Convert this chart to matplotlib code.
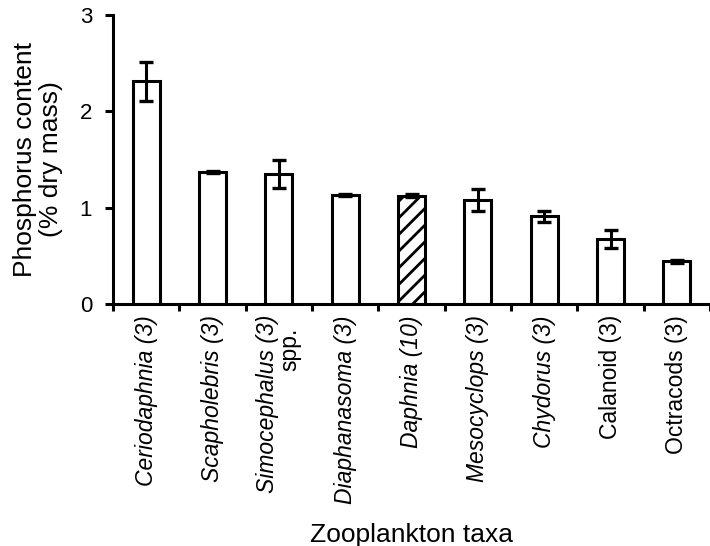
import matplotlib
matplotlib.use("Agg")
import matplotlib.pyplot as plt
import numpy as np

plt.rcParams['font.family'] = ['Liberation Sans', 'DejaVu Sans']
plt.rcParams['hatch.linewidth'] = 2.0

taxa = ["Ceriodaphnia (3)", "Scapholebris (3)", "Simocephalus (3)", "Diaphanasoma (3)",
        "Daphnia (10)", "Mesocyclops (3)", "Chydorus (3)", "Calanoid (3)", "Octracods (3)"]
second_line = ["", "", "spp.", "", "", "", "", "", ""]
italic = [True, True, True, True, True, True, True, False, False]
values = [2.31, 1.37, 1.35, 1.135, 1.125, 1.08, 0.91, 0.675, 0.445]
errors = [0.205, 0.015, 0.145, 0.012, 0.012, 0.11, 0.055, 0.09, 0.015]
hatches = ['', '', '', '', '//', '', '', '', '']
yticks = [0, 1, 2, 3]

fig = plt.figure(figsize=(7.10, 5.46), dpi=100)
ax = fig.add_axes([0.1592, 0.4432, 0.8408, 0.5293])

x = np.arange(len(taxa))
bars = ax.bar(x, values, width=0.41, color='white', edgecolor='black', linewidth=2.2,
              yerr=errors, error_kw=dict(ecolor='black', elinewidth=2.2, capsize=5, capthick=2.4),
              zorder=2)
for b, h in zip(bars, hatches):
    b.set_hatch(h)

ax.set_xlim(-0.5, len(taxa) - 0.5)
ax.set_ylim(0, 3)
ax.set_yticks(yticks)
ax.set_yticklabels([str(t) for t in yticks], fontsize=16)
ax.tick_params(axis='y', direction='out', length=6, width=2.2, pad=9)

ax.set_xticks(x)
ax.set_xticklabels([t if not s else "" for t, s in zip(taxa, second_line)],
                   rotation=90, fontsize=16.5, ha='center', va='top')
for lab, it in zip(ax.get_xticklabels(), italic):
    lab.set_style('italic' if it else 'normal')
ax.tick_params(axis='x', which='major', length=0, pad=8)
ax.set_xticks(np.arange(-0.5, len(taxa), 1.0), minor=True)
ax.tick_params(axis='x', which='minor', direction='out', length=5, width=2.2)

# two-line label: first line italic, second line upright
for i, (t, s) in enumerate(zip(taxa, second_line)):
    if s:
        ax.annotate(t, xy=(i, 0), xycoords=('data', 'axes fraction'),
                    xytext=(-11, -11), textcoords='offset pixels', rotation=90,
                    ha='center', va='top', fontsize=16.5,
                    style='italic' if italic[i] else 'normal')
        ax.annotate(s, xy=(i, 0), xycoords=('data', 'axes fraction'),
                    xytext=(11, -24), textcoords='offset pixels', rotation=90,
                    ha='center', va='top', fontsize=16.5)

for s in ['top', 'right']:
    ax.spines[s].set_visible(False)
for s in ['left', 'bottom']:
    ax.spines[s].set_linewidth(2.2)

ax.set_ylabel("Phosphorus content\n(% dry mass)", fontsize=19, labelpad=12, linespacing=1.1)
ax.set_xlabel("Zooplankton taxa", fontsize=19, labelpad=14)

fig.savefig("out.png", dpi=100)
